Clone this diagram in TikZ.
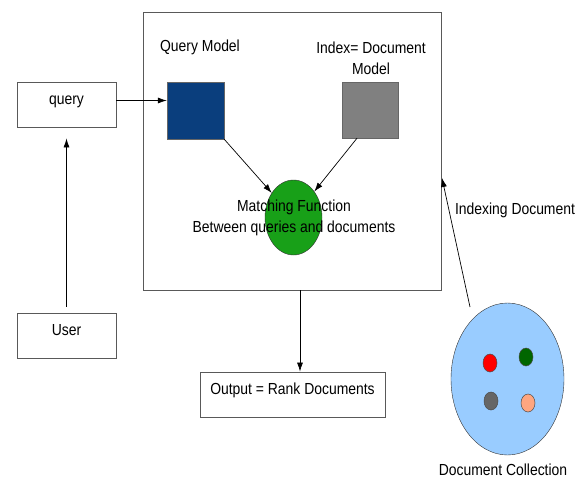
\documentclass[tikz,border=0pt]{standalone}
\usepackage{fontspec}
\setmainfont[FakeStretch=0.87]{Liberation Sans}
\usepackage{tikz}
\usetikzlibrary{shapes.geometric, arrows}
\usetikzlibrary{arrows.meta}
\tikzstyle{arrow} = [->,>={Latex[length=9pt,width=6pt]},line width=0.7pt]
\tikzset{box/.style={draw=black!65, line width=0.9pt, minimum width=99pt, minimum height=45pt, text height=11pt, text depth=11pt, inner sep=0pt}}
\tikzset{dot/.style={ellipse, draw=black!70, line width=0.5pt, minimum width=14pt, minimum height=18pt, inner sep=0pt}}
\definecolor{qblue}{RGB}{10,62,125}
\definecolor{dgray}{RGB}{128,128,128}
\definecolor{mgreen}{RGB}{24,160,24}
\definecolor{cblue}{RGB}{153,204,255}

\begin{document}
\begin{tikzpicture}[x=1pt,y=-1pt,font=\fontsize{16}{21}\selectfont]
\useasboundingbox (0,0) rectangle (584,491);

\node[box, minimum width=298pt, minimum height=278pt] (engine) at (292,151) {};
\node[box] (query) at (66.5,104.5) {query};
\node[box] (user) at (66.5,335.5) {User};
\node[box, minimum width=185pt] (out) at (292.5,394.5) {Output = Rank Documents};

\node (qmlbl) at (200,47) {Query Model};
\node[align=center] (dmlbl) at (371,58) {Index= Document\\Model};
\node[draw=black!60, fill=qblue, minimum size=57pt, inner sep=0pt] (qm) at (195.5,110.5) {};
\node[draw=black!60, fill=dgray, minimum size=56pt, inner sep=0pt] (dm) at (370,110) {};

\node[ellipse, draw=black!80, fill=mgreen, minimum width=57pt, minimum height=75pt, inner sep=0pt] (match) at (293.5,217.5) {};
\node[align=center] (matchlbl) at (294,217.5) {Matching Function\\Between queries and documents};

%collection of documents
\node[ellipse, draw=black!80, fill=cblue, minimum width=113pt, minimum height=152pt, inner sep=0pt] (coll) at (507.5,379) {};
\node[dot, fill=red] (d1) at (490,363) {};
\node[dot, fill=green!40!black] (d2) at (526,357) {};
\node[dot, fill=black!60] (d3) at (491,401) {};
\node[dot, fill=orange!60!red!50!white] (d4) at (528,403) {};
\node (colllbl) at (503,470) {Document Collection};

\coordinate (qin) at ([yshift=4pt]query.east);
\draw[arrow] (qin) -- (qin -| qm.west);
\draw[arrow, shorten <=6pt, shorten >=11pt] (user.north) -- (query.south);
\draw[arrow] (qm.south east) -- (match);
\draw[arrow] ([xshift=-13pt]dm.south) -- (match);

\coordinate (outtop) at (300,290);
\draw[arrow] (outtop) -- (outtop |- out.north);

\coordinate (idxstart) at (470,307);
\coordinate (idxend) at (442,178);
\draw[arrow] (idxstart) -- (idxend);
\node (idxlbl) at (515,210) {Indexing Document};
\end{tikzpicture}
\end{document}
